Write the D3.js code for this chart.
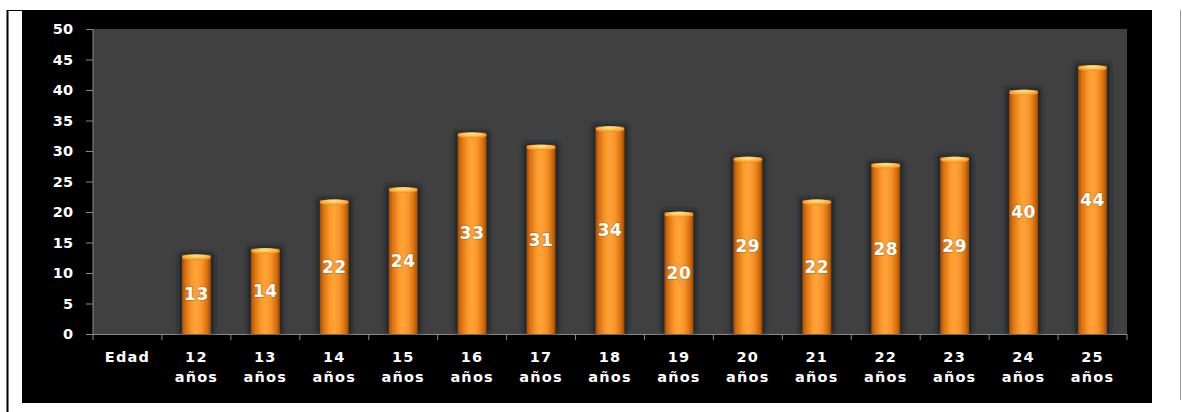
<!DOCTYPE html>
<html>
<head>
<meta charset="utf-8">
<script src="https://cdn.jsdelivr.net/npm/d3@7"></script>
<style>
  html, body { margin: 0; padding: 0; background: #ffffff; }
  svg { display: block; }
  text { font-family: "DejaVu Sans", "Liberation Sans", sans-serif; font-weight: bold; fill: #ffffff; }
</style>
</head>
<body>
<svg id="chart" width="1182" height="412"></svg>
<script>
// Age categories (first slot is the row header, with no bar)
const categories = ["Edad", "12 años", "13 años", "14 años", "15 años", "16 años", "17 años",
                    "18 años", "19 años", "20 años", "21 años", "22 años", "23 años", "24 años", "25 años"];
const values = [null, 13, 14, 22, 24, 33, 31, 34, 20, 29, 22, 28, 29, 40, 44];
const yTicks = [0, 5, 10, 15, 20, 25, 30, 35, 40, 45, 50];

const svg = d3.select("#chart");

// Outer frame lines and the black chart block
svg.append("line").attr("x1", 7.5).attr("x2", 7.5).attr("y1", 10).attr("y2", 412)
  .attr("stroke", "#000").attr("stroke-width", 2);
svg.append("line").attr("x1", 7).attr("x2", 1152).attr("y1", 10.5).attr("y2", 10.5)
  .attr("stroke", "#000").attr("stroke-width", 1);
svg.append("line").attr("x1", 1180.5).attr("x2", 1180.5).attr("y1", 10).attr("y2", 400)
  .attr("stroke", "#9a9a9a").attr("stroke-width", 1);
svg.append("rect").attr("x", 22).attr("y", 10).attr("width", 1130).attr("height", 393).attr("fill", "#000");

const plot = { left: 93, right: 1127, top: 29, bottom: 334 };

const x = d3.scaleBand().domain(categories).range([plot.left, plot.right]).padding(0);
const y = d3.scaleLinear().domain([0, 50]).range([plot.bottom, plot.top]);

// Plot background
svg.append("rect")
  .attr("x", plot.left).attr("y", plot.top)
  .attr("width", plot.right - plot.left).attr("height", plot.bottom - plot.top)
  .attr("fill", "#404040");

// Gradients for the cylinder bars
const defs = svg.append("defs");
const body = defs.append("linearGradient").attr("id", "barBody").attr("x1", "0").attr("x2", "1").attr("y1", "0").attr("y2", "0");
[["0%", "#a24c04"], ["12%", "#d8700e"], ["35%", "#fb9a2c"], ["50%", "#ffa43a"], ["70%", "#f69228"], ["88%", "#d66e0c"], ["100%", "#9a4804"]]
  .forEach(([o, c]) => body.append("stop").attr("offset", o).attr("stop-color", c));
const cap = defs.append("radialGradient").attr("id", "barCap").attr("cx", "50%").attr("cy", "30%").attr("r", "60%");
[["0%", "#ffe890"], ["55%", "#ffbe50"], ["100%", "#f39424"]]
  .forEach(([o, c]) => cap.append("stop").attr("offset", o).attr("stop-color", c));
const blur = defs.append("filter").attr("id", "halo").attr("x", "-50%").attr("y", "-10%").attr("width", "200%").attr("height", "120%");
blur.append("feGaussianBlur").attr("stdDeviation", 2.2);

// Y axis
const yAxis = svg.append("g").attr("transform", `translate(${plot.left},0)`)
  .call(d3.axisLeft(y).tickValues(yTicks).tickSize(7).tickPadding(13));
yAxis.select(".domain").attr("stroke", "#8a8a8a").attr("d", `M0,${plot.top}V${plot.bottom}`);
yAxis.selectAll(".tick line").attr("stroke", "#8a8a8a");
yAxis.selectAll(".tick text").attr("fill", "#fff").attr("font-size", 14.5)
  .attr("font-family", "DejaVu Sans, sans-serif").attr("font-weight", "bold");

// X axis: ticks sit on category boundaries
const xAxis = svg.append("g").attr("transform", `translate(0,${plot.bottom})`);
xAxis.append("line").attr("x1", plot.left).attr("x2", plot.right).attr("y1", 0.5).attr("y2", 0.5)
  .attr("stroke", "#8a8a8a");
const bounds = categories.map(c => x(c)).concat([plot.right]);
xAxis.selectAll("line.tk").data(bounds).join("line").attr("class", "tk")
  .attr("x1", d => d).attr("x2", d => d).attr("y1", 0).attr("y2", 6).attr("stroke", "#8a8a8a");

const labels = svg.append("g");
categories.forEach(c => {
  const parts = c.split(" ");
  const t = labels.append("text")
    .attr("x", x(c) + x.bandwidth() / 2)
    .attr("text-anchor", "middle")
    .attr("font-size", 14.5)
    .attr("letter-spacing", 1.2);
  parts.forEach((p, i) => {
    t.append("tspan").attr("x", x(c) + x.bandwidth() / 2).attr("y", 362 + i * 20).text(p);
  });
});

// Bars
const data = categories.map((c, i) => ({ c, v: values[i] })).filter(d => d.v != null);
const bw = x.bandwidth() * 0.42;
const bars = svg.append("g");

bars.selectAll("rect.halo").data(data).join("rect").attr("class", "halo")
  .attr("x", d => x(d.c) + (x.bandwidth() - bw) / 2 - 3)
  .attr("y", d => y(d.v) - 2)
  .attr("width", bw + 6)
  .attr("height", d => plot.bottom - y(d.v) + 2)
  .attr("fill", "#14202c").attr("opacity", 0.85)
  .attr("filter", "url(#halo)");

bars.selectAll("rect.body").data(data).join("rect").attr("class", "body")
  .attr("x", d => x(d.c) + (x.bandwidth() - bw) / 2)
  .attr("y", d => y(d.v))
  .attr("width", bw)
  .attr("height", d => plot.bottom - y(d.v))
  .attr("fill", "url(#barBody)");

bars.selectAll("ellipse.cap").data(data).join("ellipse").attr("class", "cap")
  .attr("cx", d => x(d.c) + x.bandwidth() / 2)
  .attr("cy", d => y(d.v) + 2.5)
  .attr("rx", bw / 2)
  .attr("ry", 3)
  .attr("fill", "url(#barCap)");

// Value labels in the middle of each bar
bars.selectAll("text.val").data(data).join("text").attr("class", "val")
  .attr("x", d => x(d.c) + x.bandwidth() / 2)
  .attr("y", d => y(d.v / 2))
  .attr("dy", "0.36em")
  .attr("text-anchor", "middle")
  .attr("font-size", 17)
  .attr("letter-spacing", 0.5)
  .style("paint-order", "stroke")
  .attr("stroke", "rgba(120,60,0,0.35)")
  .attr("stroke-width", 1.5)
  .text(d => d.v);
</script>
</body>
</html>
